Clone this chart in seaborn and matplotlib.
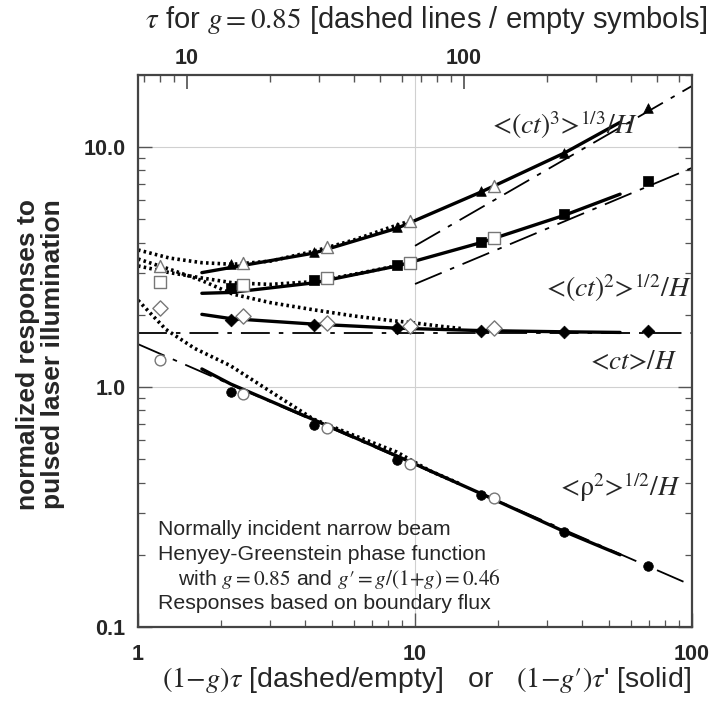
import matplotlib
matplotlib.use("Agg")
import matplotlib.pyplot as plt
import seaborn as sns
import pandas as pd
from matplotlib.ticker import FixedLocator, FixedFormatter, LogLocator, NullFormatter

# ---------------- data ----------------
x_filled = [2.16, 4.32, 8.64, 17.28, 34.56, 69.12]
x_empty = [1.2, 2.4, 4.8, 9.6, 19.2]

tri_filled = [3.25, 3.66, 4.64, 6.54, 9.5, 14.6]
tri_empty = [3.2, 3.3, 3.82, 4.93, 6.86]
sq_filled = [2.58, 2.8, 3.23, 4.01, 5.26, 7.24]
sq_empty = [2.73, 2.66, 2.84, 3.3, 4.2]
dia_filled = [1.91, 1.82, 1.76, 1.72, 1.69, 1.72]
dia_empty = [2.13, 1.98, 1.85, 1.79, 1.76]
cir_filled = [0.95, 0.694, 0.498, 0.355, 0.25, 0.179]
cir_empty = [1.3, 0.94, 0.675, 0.48, 0.344]

# solid curves (g' scaling)
x_solid = [1.7, 2.16, 4.32, 8.64, 17.28, 34.56, 55]
tri_solid = [3.0, 3.15, 3.62, 4.6, 6.5, 9.45, 12.7]
sq_solid = [2.46, 2.48, 2.72, 3.2, 4.0, 5.2, 6.37]
dia_solid = [2.01, 1.93, 1.83, 1.76, 1.72, 1.70, 1.69]
cir_solid = [1.19, 1.03, 0.73, 0.515, 0.36, 0.25, 0.2]

# dotted curves (g = 0.85)
x_dot_a = [1, 1.3, 1.7, 2.2, 3, 4.3, 6, 8, 9.6]
tri_dot = [3.73, 3.45, 3.3, 3.25, 3.35, 3.68, 4.1, 4.6, 4.93]
sq_dot = [3.2, 3.0, 2.85, 2.72, 2.68, 2.75, 2.95, 3.15, 3.3]
x_dot_b = [1, 1.3, 1.7, 2.2, 3, 4.3, 6, 8, 10, 12.5, 15]
dia_dot = [3.42, 3.1, 2.78, 2.44, 2.25, 2.1, 1.98, 1.9, 1.85, 1.79, 1.75]
x_dot_c = [1, 1.26, 1.6, 2.15, 3, 4.29, 6, 8.6, 11.3, 14.6]
cir_dot = [2.3, 1.74, 1.45, 1.23, 0.96, 0.736, 0.63, 0.536, 0.448, 0.394]

# asymptotes (dash-dot)
x_asym_tri = [10, 100]
tri_asym = [3.88, 18.0]
x_asym_sq = [10, 100]
sq_asym = [2.69, 8.2]
x_asym_full = [1, 100]
dia_asym = [1.68, 1.68]
cir_asym = [1.51, 0.149]

x_ticks = [1, 10, 100]
x_tick_labels = ["1", "10", "100"]
y_ticks = [0.1, 1.0, 10.0]
y_tick_labels = ["0.1", "1.0", "10.0"]
top_ticks = [10, 100]
top_tick_labels = ["10", "100"]
G = 0.85

# ---------------- style ----------------
sns.set_theme(style="ticks")
plt.rcParams["font.family"] = ["Liberation Sans", "DejaVu Sans"]
plt.rcParams["mathtext.fontset"] = "stix"

fig = plt.figure(figsize=(7.13, 7.04), dpi=100)
ax = fig.add_axes([0.1936, 0.1094, 0.777, 0.7841])
ax.set_xscale("log")
ax.set_yscale("log")

DASHDOT = (0, (16, 5, 2.5, 5))
DOTTED = (0, (0.7, 0.9))

def line(x, y, **kw):
    sns.lineplot(x=x, y=y, ax=ax, color="black", sort=False, estimator=None, **kw)

# asymptotes
line(x_asym_tri, tri_asym, lw=1.3, linestyle=DASHDOT)
line(x_asym_sq, sq_asym, lw=1.3, linestyle=DASHDOT)
line(x_asym_full, dia_asym, lw=1.3, linestyle=DASHDOT)
line(x_asym_full, cir_asym, lw=1.3, linestyle=DASHDOT)

# dotted (g=0.85)
line(x_dot_a, tri_dot, lw=2.6, linestyle=DOTTED)
line(x_dot_a, sq_dot, lw=2.6, linestyle=DOTTED)
line(x_dot_b, dia_dot, lw=2.6, linestyle=DOTTED)
line(x_dot_c, cir_dot, lw=2.6, linestyle=DOTTED)

# solid (g')
for ys in (tri_solid, sq_solid, dia_solid, cir_solid):
    line(x_solid, ys, lw=2.4, linestyle="-")

# markers
def pts(x, y, marker, s, filled):
    if filled:
        sns.scatterplot(x=x, y=y, ax=ax, marker=marker, s=s, color="black",
                        edgecolor="black", linewidth=0.5, zorder=5)
    else:
        sns.scatterplot(x=x, y=y, ax=ax, marker=marker, s=s, color="white",
                        edgecolor="#777777", linewidth=1.0, zorder=6)

pts(x_filled, tri_filled, "^", 48, True)
pts(x_empty, tri_empty, "^", 75, False)
pts(x_filled, sq_filled, "s", 48, True)
pts(x_empty, sq_empty, "s", 75, False)
pts(x_filled, dia_filled, "D", 42, True)
pts(x_empty, dia_empty, "D", 60, False)
pts(x_filled, cir_filled, "o", 48, True)
pts(x_empty, cir_empty, "o", 60, False)

ax.set_xlim(1, 100)
ax.set_ylim(0.1, 20)

ax.xaxis.set_major_locator(FixedLocator(x_ticks))
ax.xaxis.set_major_formatter(FixedFormatter(x_tick_labels))
ax.xaxis.set_minor_locator(LogLocator(base=10, subs=range(2, 10)))
ax.xaxis.set_minor_formatter(NullFormatter())
ax.yaxis.set_major_locator(FixedLocator(y_ticks))
ax.yaxis.set_major_formatter(FixedFormatter(y_tick_labels))
ax.yaxis.set_minor_locator(LogLocator(base=10, subs=range(2, 10)))
ax.yaxis.set_minor_formatter(NullFormatter())

ax.tick_params(which="both", direction="in", top=False, right=True, color="#555555")
ax.tick_params(which="major", length=10, width=1.0, labelsize=15.5)
ax.tick_params(axis="x", which="major", pad=12)
ax.tick_params(axis="y", which="major", pad=9)
ax.tick_params(which="minor", length=5, width=0.9)
for lab in ax.get_xticklabels() + ax.get_yticklabels():
    lab.set_fontweight("bold")
ax.grid(True, which="major", color="#d0d0d0", lw=0.8)
for sp in ax.spines.values():
    sp.set_visible(True)
    sp.set_linewidth(1.6)
    sp.set_color("#444444")

sec = ax.secondary_xaxis("top", functions=(lambda x: x / (1 - G), lambda t: t * (1 - G)))
sec.xaxis.set_major_locator(FixedLocator(top_ticks))
sec.xaxis.set_major_formatter(FixedFormatter(top_tick_labels))
sec.xaxis.set_minor_locator(LogLocator(base=10, subs=range(2, 10)))
sec.xaxis.set_minor_formatter(NullFormatter())
sec.tick_params(which="both", direction="in", color="#555555")
sec.tick_params(which="major", length=10, labelsize=15.5, pad=4)
sec.tick_params(which="minor", length=5)
for lab in sec.get_xticklabels():
    lab.set_fontweight("bold")
sec.spines["top"].set_visible(False)

# curve labels (serif, italic ct / H)
lab_kw = dict(fontsize=20, ha="left", va="baseline", family="STIXGeneral")
ax.text(19.0, 11.3, r"<($ct$)$^3$>$^{1/3}$/$H$", **lab_kw)
ax.text(29.8, 2.37, r"<($ct$)$^2$>$^{1/2}$/$H$", **lab_kw)
ax.text(42.8, 1.19, r"<$ct$>/$H$", fontsize=19.5, ha="left", va="baseline", family="STIXGeneral")
ax.text(33.5, 0.351, r"<ρ$^2$>$^{1/2}$/$H$", **lab_kw)

# info box
info_kw = dict(transform=ax.transAxes, fontsize=15.3, ha="left", va="center")
ax.text(0.036, 0.1775, "Normally incident narrow beam", **info_kw)
ax.text(0.036, 0.1322, "Henyey-Greenstein phase function", **info_kw)
ax.text(0.072, 0.0870, "with $g = 0.85$ and $g\u2032 = g/(1{+}g) = 0.46$", **info_kw)
ax.text(0.036, 0.0417, "Responses based on boundary flux", **info_kw)

# axis titles
fig.text(0.598, 0.971, r"$\tau$ for $g = 0.85$ [dashed lines / empty symbols]",
         fontsize=21, ha="center", va="center")
fig.text(0.598, 0.034, "$(1{-}g)\\tau$ [dashed/empty]   or   $(1{-}g\u2032)\\tau$' [solid]",
         fontsize=20.5, ha="center", va="center")
fig.text(0.057, 0.497, "normalized responses to\npulsed laser illumination",
         fontsize=19, fontweight="bold", rotation=90, ha="center", va="center",
         linespacing=1.05)

fig.savefig("out.png", dpi=100)
